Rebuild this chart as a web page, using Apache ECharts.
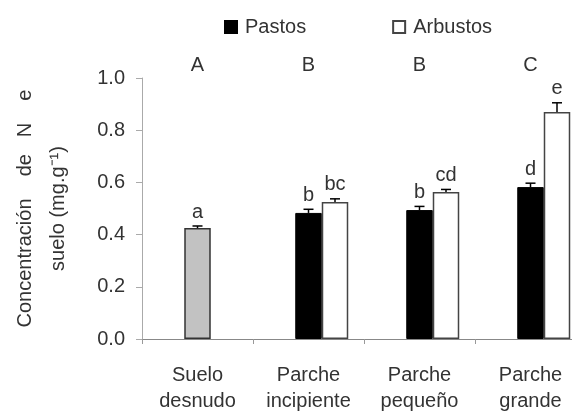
<!DOCTYPE html>
<html>
<head>
<meta charset="utf-8">
<script src="https://cdn.jsdelivr.net/npm/echarts@6/dist/echarts.min.js"></script>
<style>
  html, body { margin: 0; padding: 0; background: #fff; }
  #main { width: 572px; height: 412px; }
</style>
</head>
<body>
<div id="main"></div>
<script>
// datos
var categories = ['Suelo\ndesnudo', 'Parche\nincipiente', 'Parche\npequeño', 'Parche\ngrande'];
var pastos = [0.425, 0.483, 0.494, 0.582];
var arbustos = [null, 0.525, 0.563, 0.87];
var pastosErr = [0.008, 0.014, 0.014, 0.015];
var arbustosErr = [null, 0.012, 0.01, 0.035];
var pastosLetters = ['a', 'b', 'b', 'd'];
var arbustosLetters = ['', 'bc', 'cd', 'e'];
var groupLetters = ['A', 'B', 'B', 'C'];
var yTicks = [0, 0.2, 0.4, 0.6, 0.8, 1.0];

var FONT = 'Liberation Sans';
var TXT = '#333';
var BAR_W = 26.5;

var chart = echarts.init(document.getElementById('main'), null, { renderer: 'canvas' });

// barras de error (solo hacia arriba) + letras
function errData(values, errs, slot) {
  var out = [];
  values.forEach(function (v, i) {
    if (v != null) out.push([i, v, errs[i], slot]);
  });
  return out;
}

function makeErrRender(letters) {
  return function (params, api) {
    var i = api.value(0), v = api.value(1), e = api.value(2), slot = api.value(3);
    var base = api.coord([i, v]);
    var top = api.coord([i, v + e]);
    var x = base[0] + slot * BAR_W;
    return {
      type: 'group',
      children: [
        { type: 'line', shape: { x1: x, y1: base[1], x2: x, y2: top[1] }, style: { stroke: '#000', lineWidth: 1.5 } },
        { type: 'line', shape: { x1: x - 5, y1: top[1], x2: x + 5, y2: top[1] }, style: { stroke: '#000', lineWidth: 1.5 } },
        { type: 'text', x: x, y: top[1] - 14, style: { text: letters[i], font: '20px "' + FONT + '"', fill: TXT, align: 'center', verticalAlign: 'middle' } }
      ]
    };
  };
}

var option = {
  backgroundColor: '#fff',
  animation: false,
  legend: {
    data: ['Pastos', 'Arbustos'],
    left: 219,
    top: 12,
    itemWidth: 12,
    itemHeight: 12,
    itemGap: 86,
    icon: 'rect',
    textStyle: { fontFamily: FONT, fontSize: 20, color: TXT, padding: [0, 0, 0, 3] }
  },
  grid: { left: 142, top: 78, bottom: 73, right: -14, outerBoundsMode: 'none' },
  xAxis: {
    type: 'category',
    data: categories,
    axisLine: { lineStyle: { color: '#888', width: 1 } },
    axisTick: { show: true, length: 5, lineStyle: { color: '#999' } },
    axisLabel: { fontFamily: FONT, fontSize: 20, color: TXT, lineHeight: 26, margin: 23 }
  },
  yAxis: {
    type: 'value',
    min: yTicks[0],
    max: yTicks[yTicks.length - 1],
    interval: 0.2,
    splitLine: { show: false },
    axisLine: { show: true, lineStyle: { color: '#aaa', width: 1 } },
    axisTick: { show: true, length: 6, lineStyle: { color: '#aaa' } },
    axisLabel: {
      fontFamily: FONT, fontSize: 20, color: TXT, margin: 17,
      formatter: function (v) { return v.toFixed(1); }
    },
    name: 'Concentración    de   N    e\nsuelo (mg.g⁻¹)',
    nameLocation: 'middle',
    nameRotate: 90,
    nameGap: 67,
    nameTextStyle: { fontFamily: FONT, fontSize: 20, color: TXT, lineHeight: 33 }
  },
  series: [
    {
      // hueco vacio a la izquierda, como en el grafico original
      name: '_hueco',
      type: 'bar',
      data: [],
      barWidth: BAR_W,
      barGap: 0
    },
    {
      name: 'Pastos',
      type: 'bar',
      barWidth: BAR_W,
      barGap: 0,
      itemStyle: { color: '#000', borderColor: '#000', borderWidth: 1 },
      data: pastos.map(function (v, i) {
        return i === 0 ? { value: v, itemStyle: { color: '#c2c2c2', borderColor: '#333', borderWidth: 1.5 } } : v;
      })
    },
    {
      name: 'Arbustos',
      type: 'bar',
      barWidth: BAR_W,
      barGap: 0,
      itemStyle: { color: '#fff', borderColor: '#444', borderWidth: 1.5 },
      data: arbustos
    },
    {
      type: 'custom',
      renderItem: makeErrRender(pastosLetters),
      data: errData(pastos, pastosErr, 0),
      z: 10
    },
    {
      type: 'custom',
      renderItem: makeErrRender(arbustosLetters),
      data: errData(arbustos, arbustosErr, 1),
      z: 10
    },
    {
      // letras de grupo arriba del grafico
      type: 'custom',
      renderItem: function (params, api) {
        var i = api.value(0);
        var p = api.coord([i, api.value(1)]);
        return {
          type: 'text', x: p[0], y: p[1] - 13,
          style: { text: groupLetters[i], font: '20px "' + FONT + '"', fill: TXT, align: 'center', verticalAlign: 'middle' }
        };
      },
      data: groupLetters.map(function (l, i) { return [i, yTicks[yTicks.length - 1]]; }),
      z: 10
    }
  ]
};

chart.setOption(option);
</script>
</body>
</html>
